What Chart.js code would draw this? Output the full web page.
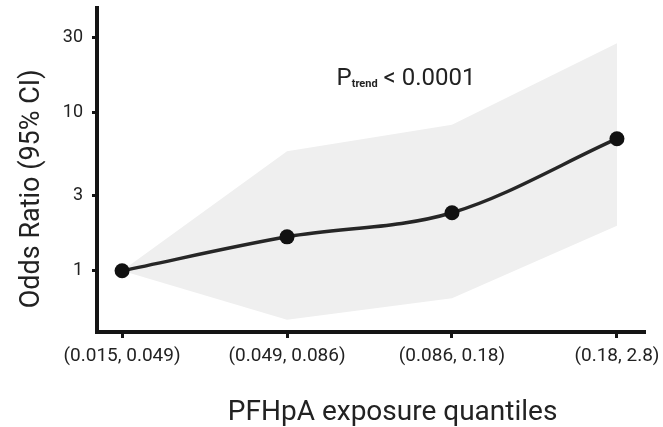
<!DOCTYPE html>
<html>
<head>
<meta charset="utf-8">
<script src="https://cdn.jsdelivr.net/npm/chart.js@4/dist/chart.umd.min.js"></script>
<style>
  html, body { margin: 0; padding: 0; background: #fff; }
  #wrap { width: 663px; height: 427px; }
</style>
</head>
<body>
<div id="wrap"><canvas id="c" width="663" height="427"></canvas></div>
<script>
// Exposure quantile bins of PFHpA
const categories = ['(0.015, 0.049)', '(0.049, 0.086)', '(0.086, 0.18)', '(0.18, 2.8)'];
// Odds ratio estimates and 95% confidence limits per quantile
const oddsRatio = [1, 1.64, 2.33, 6.85];
const ciLower   = [1, 0.49, 0.67, 1.93];
const ciUpper   = [1, 5.7, 8.4, 27.5];
// Y axis tick values (log scale)
const yTicks = [1, 3, 10, 30];
const xTitle = 'PFHpA exposure quantiles';
const yTitle = 'Odds Ratio (95% CI)';
const trendLabel = { sub: 'trend', text: ' < 0.0001', x: 1.3, y: 15 };

const xy = arr => arr.map((v, i) => ({ x: i, y: v }));
const INK = '#222';

// Axis titles and the P-trend note, placed from the scales
const annotations = {
  id: 'annotations',
  afterDraw(chart) {
    const { ctx, scales, chartArea } = chart;
    ctx.save();
    ctx.fillStyle = INK;

    // x axis title
    ctx.font = '28px Roboto';
    ctx.textAlign = 'center';
    ctx.textBaseline = 'alphabetic';
    ctx.fillText(xTitle, scales.x.getPixelForValue(1.64), chartArea.bottom + 88);

    // y axis title, rotated
    ctx.save();
    ctx.translate(chartArea.left - 65, scales.y.getPixelForValue(3.3));
    ctx.rotate(-Math.PI / 2);
    ctx.font = '27px Roboto';
    ctx.textAlign = 'center';
    ctx.textBaseline = 'middle';
    ctx.fillText(yTitle, 0, 0);
    ctx.restore();

    // P-trend with subscript
    const px = scales.x.getPixelForValue(trendLabel.x);
    const py = scales.y.getPixelForValue(trendLabel.y);
    ctx.textAlign = 'left';
    ctx.textBaseline = 'alphabetic';
    ctx.font = '24px Roboto';
    ctx.fillText('P', px, py);
    let x = px + ctx.measureText('P').width;
    ctx.font = 'bold 11px Roboto';
    ctx.fillText(trendLabel.sub, x, py + 2);
    x += ctx.measureText(trendLabel.sub).width;
    ctx.font = '24px Roboto';
    ctx.fillText(trendLabel.text, x, py);
    ctx.restore();
  }
};

new Chart(document.getElementById('c'), {
  type: 'line',
  data: {
    datasets: [
      {
        data: xy(ciUpper),
        borderWidth: 0,
        pointRadius: 0,
        tension: 0,
        fill: '+1',
        backgroundColor: '#efefef',
        order: 3
      },
      {
        data: xy(ciLower),
        borderWidth: 0,
        pointRadius: 0,
        tension: 0,
        fill: false,
        order: 3
      },
      {
        data: xy(oddsRatio),
        borderColor: '#262626',
        borderWidth: 3.5,
        pointRadius: 7.5,
        pointBackgroundColor: '#111',
        pointBorderColor: '#111',
        pointBorderWidth: 0,
        cubicInterpolationMode: 'monotone',
        fill: false,
        order: 1
      }
    ]
  },
  options: {
    responsive: false,
    animation: false,
    devicePixelRatio: 1,
    layout: { padding: { left: 0, right: 18, top: 8, bottom: 0 } },
    plugins: { legend: { display: false }, tooltip: { enabled: false } },
    scales: {
      x: {
        type: 'linear',
        min: -0.152,
        max: 3.17,
        afterBuildTicks: s => { s.ticks = categories.map((_, i) => ({ value: i })); },
        afterFit: s => { s.height = 95; s.paddingLeft = 0; s.paddingRight = 0; },
        border: { display: true, color: '#151515', width: 4 },
        grid: { drawOnChartArea: false, drawTicks: true, tickLength: 6, tickWidth: 3, tickColor: '#151515', color: '#151515' },
        ticks: {
          callback: v => categories[v],
          color: INK,
          font: { family: 'Roboto', size: 19 },
          padding: 7,
          maxRotation: 0,
          autoSkip: false
        }
      },
      y: {
        type: 'logarithmic',
        min: 0.41,
        max: 46,
        afterBuildTicks: s => { s.ticks = yTicks.map(v => ({ value: v })); },
        afterFit: s => { s.width = 97; s.paddingTop = 0; s.paddingBottom = 0; },
        border: { display: true, color: '#151515', width: 4 },
        grid: { drawOnChartArea: false, drawTicks: true, tickLength: 5, tickWidth: 3, tickColor: '#151515', color: '#151515' },
        ticks: {
          callback: v => String(v),
          color: INK,
          font: { family: 'Roboto', size: 18 },
          padding: 9
        }
      }
    }
  },
  plugins: [annotations]
});
</script>
</body>
</html>
